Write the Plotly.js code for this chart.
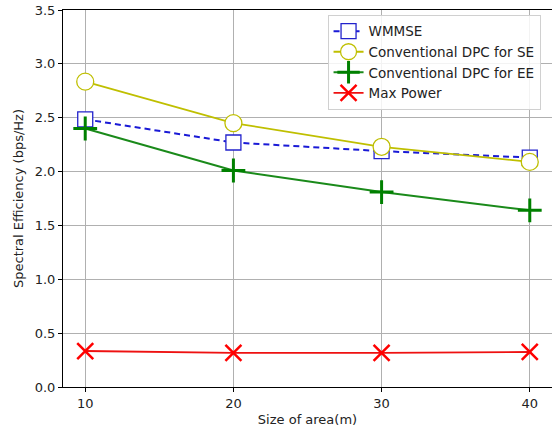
<!DOCTYPE html>
<html>
<head>
<meta charset="utf-8">
<script src="https://cdn.plot.ly/plotly-3.0.1.min.js"></script>
<style>html,body{margin:0;padding:0;background:#fff;}#chart{width:552px;height:435px;}</style>
</head>
<body>
<div id="chart"></div>
<script>
const areaSize = [10, 20, 30, 40];
const wmmse = [2.485, 2.27, 2.19, 2.13];
const dpcSE = [2.835, 2.45, 2.23, 2.09];
const dpcEE = [2.40, 2.01, 1.81, 1.64];
const maxPower = [0.334, 0.316, 0.316, 0.325];
const seriesNames = ["WMMSE", "Conventional DPC for SE", "Conventional DPC for EE", "Max Power"];
const xTicks = [10, 20, 30, 40];
const yTicks = [0, 0.5, 1.0, 1.5, 2.0, 2.5, 3.0, 3.5];

const traces = [
  {x: areaSize, y: wmmse, name: seriesNames[0], mode: 'lines+markers',
   line: {color: '#1a1ad6', width: 2, dash: '6px,4px'},
   marker: {symbol: 'square', size: 15, color: 'white', line: {color: '#2222cc', width: 1.3}}},
  {x: areaSize, y: dpcSE, name: seriesNames[1], mode: 'lines+markers',
   line: {color: '#bfbf00', width: 1.8},
   marker: {symbol: 'circle', size: 17, color: 'white', line: {color: '#bfbf00', width: 1.3}}},
  {x: areaSize, y: dpcEE, name: seriesNames[2], mode: 'lines+markers',
   line: {color: '#1a8a1a', width: 2},
   marker: {symbol: 'cross-thin-open', size: 17, color: '#008000', line: {color: '#008000', width: 3}}},
  {x: areaSize, y: maxPower, name: seriesNames[3], mode: 'lines+markers',
   line: {color: '#ee1111', width: 1.8},
   marker: {symbol: 'x-thin-open', size: 16, color: '#ff0000', line: {color: '#ff0000', width: 2.5}}}
];

const layout = {
  width: 552, height: 435,
  margin: {l: 63, r: 0, t: 10, b: 48},
  paper_bgcolor: 'white', plot_bgcolor: 'white',
  font: {family: 'DejaVu Sans, sans-serif', size: 13, color: '#222'},
  showlegend: true,
  legend: {x: 0.541, y: 0.987, xanchor: 'left', yanchor: 'top',
    bgcolor: 'rgba(255,255,255,0.85)', bordercolor: '#d0d0d0', borderwidth: 1,
    font: {size: 13.5, color: '#222'}, tracegroupgap: 0},
  xaxis: {range: [8.5, 41.5], tickvals: xTicks, ticktext: xTicks.map(String),
    showgrid: true, gridcolor: '#b0b0b0', gridwidth: 1, zeroline: false,
    showline: true, linecolor: '#000', linewidth: 1, mirror: true,
    ticks: 'outside', ticklen: 4, tickcolor: '#000', tickfont: {size: 13},
    title: {text: 'Size of area(m)', font: {size: 13, color: '#222'}, standoff: 5}},
  yaxis: {range: [0, 3.5], tickvals: yTicks, ticktext: yTicks.map(v => v.toFixed(1)),
    showgrid: true, gridcolor: '#b0b0b0', gridwidth: 1, zeroline: false,
    showline: true, linecolor: '#000', linewidth: 1, mirror: true,
    ticks: 'outside', ticklen: 4, tickcolor: '#000', tickfont: {size: 13},
    title: {text: 'Spectral Efficiency (bps/Hz)', font: {size: 13, color: '#222'}, standoff: 8}}
};

Plotly.newPlot('chart', traces, layout, {displayModeBar: false, staticPlot: true});
</script>
</body>
</html>
